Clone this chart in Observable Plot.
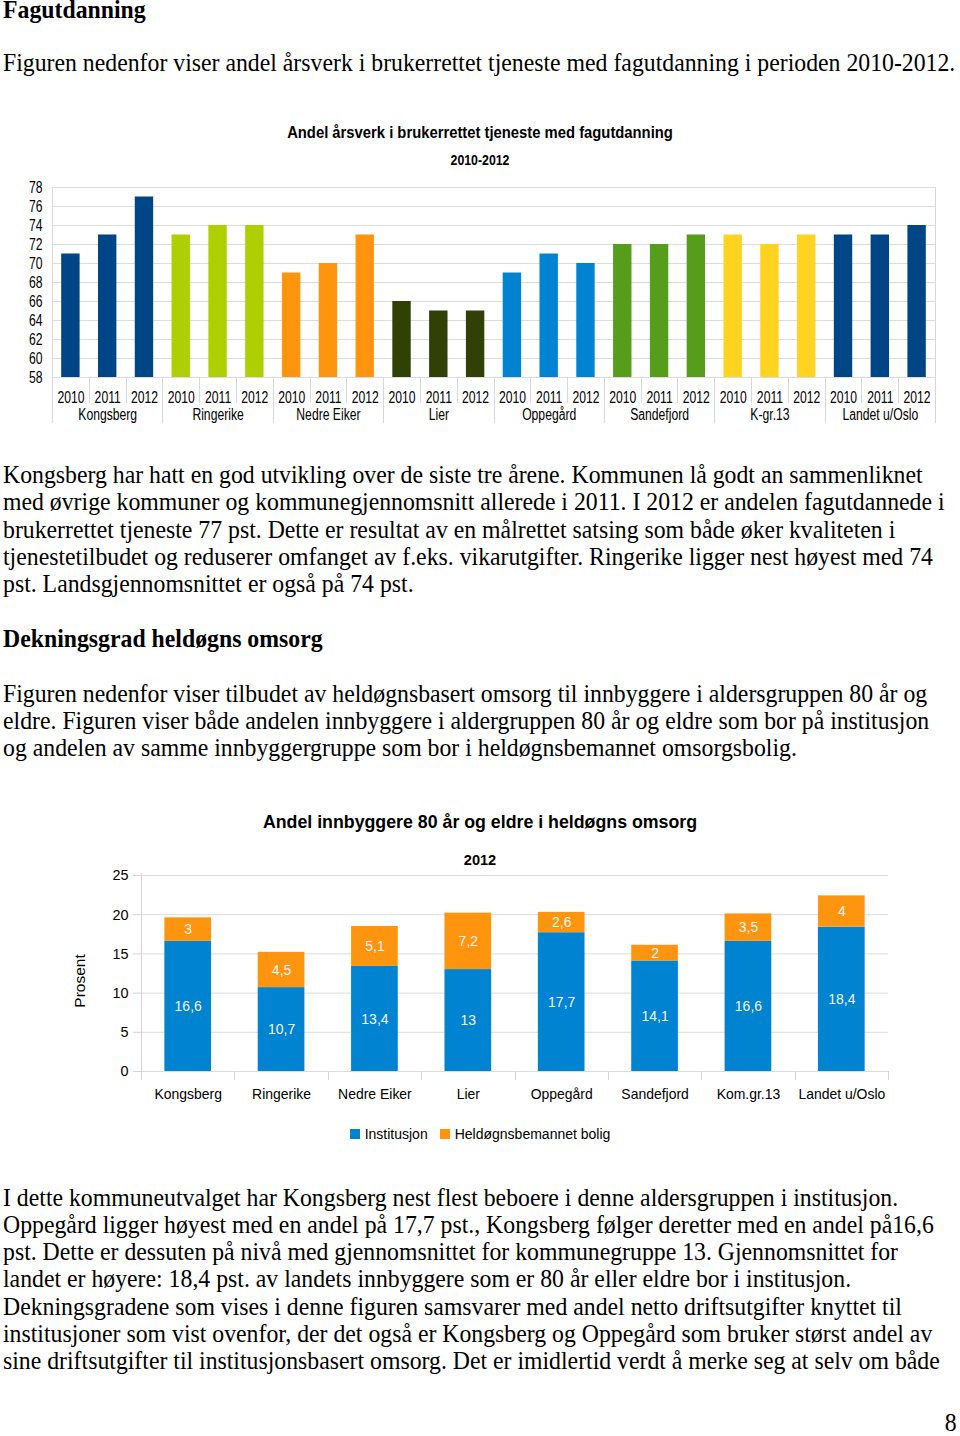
<!DOCTYPE html>
<html><head><meta charset="utf-8">
<script src="https://cdn.jsdelivr.net/npm/d3@7"></script>
<script src="https://cdn.jsdelivr.net/npm/@observablehq/plot@0.6"></script>
<style>
body{margin:0;background:#fff;}
#page{position:relative;width:960px;height:1436px;overflow:hidden;font-family:"Liberation Serif","Times New Roman",serif;background:#fff;}
.ln{position:absolute;left:3px;white-space:nowrap;font-size:25.5px;line-height:20px;color:#000;transform:scaleX(0.932);transform-origin:0 50%;}
.b{font-weight:bold;}
.ct{position:absolute;left:0;width:960px;text-align:center;font-family:"Liberation Sans",Arial,sans-serif;font-weight:bold;line-height:20px;color:#000;white-space:nowrap;transform-origin:50% 50%;}
.chart{position:absolute;left:0;}
#legend2{position:absolute;left:0;width:960px;top:1124px;display:flex;justify-content:center;align-items:center;font-family:"Liberation Sans",Arial,sans-serif;font-size:14px;line-height:20px;color:#000;}
#legend2 .sw{display:inline-block;width:10px;height:10px;margin-right:5px;}
#legend2 .it{display:flex;align-items:center;margin:0 6px;}
#prosent{position:absolute;left:80px;top:981px;transform:translate(-50%,-50%) rotate(-90deg);font-family:"Liberation Sans",Arial,sans-serif;font-size:15.5px;white-space:nowrap;}
</style></head><body><div id="page"></div>
<script>
// ---- Chart 1 data ----
const groups1 = ["Kongsberg","Ringerike","Nedre Eiker","Lier","Oppegård","Sandefjord","K-gr.13","Landet u/Oslo"];
const years1 = ["2010","2011","2012"];
const values2010 = [71,73,69,66,69,72,73,73];
const values2011 = [73,74,70,65,71,72,72,73];
const values2012 = [77,74,73,65,70,73,73,74];
const groupColors1 = ["#004586","#aecf00","#ff950e","#314004","#0084d1","#579d1c","#ffd320","#004586"];
const yDomain1 = [58,78];
const yTicks1 = [58,60,62,64,66,68,70,72,74,76,78];
const title1 = "Andel årsverk i brukerrettet tjeneste med fagutdanning";
const subtitle1 = "2010-2012";

// ---- Chart 2 data ----
const cats2 = ["Kongsberg","Ringerike","Nedre Eiker","Lier","Oppegård","Sandefjord","Kom.gr.13","Landet u/Oslo"];
const institusjon = [16.6,10.7,13.4,13,17.7,14.1,16.6,18.4];
const heldogn = [3,4.5,5.1,7.2,2.6,2,3.5,4];
const series2 = ["Institusjon","Heldøgnsbemannet bolig"];
const seriesColors2 = ["#0084d1","#ff950e"];
const yDomain2 = [0,25];
const yTicks2 = [0,5,10,15,20,25];
const title2 = "Andel innbyggere 80 år og eldre i heldøgns omsorg";
const subtitle2 = "2012";
const yLabel2 = "Prosent";

// ---- Page text (baseline positions) ----
const textLines = [
  {t:"Fagutdanning", y:19, b:true},
  {t:"Figuren nedenfor viser andel årsverk i brukerrettet tjeneste med fagutdanning i perioden 2010-2012.", y:72},
  {t:"Kongsberg har hatt en god utvikling over de siste tre årene. Kommunen lå godt an sammenliknet", y:484},
  {t:"med øvrige kommuner og kommunegjennomsnitt allerede i 2011. I 2012 er andelen fagutdannede i", y:511},
  {t:"brukerrettet tjeneste 77 pst. Dette er resultat av en målrettet satsing som både øker kvaliteten i", y:539},
  {t:"tjenestetilbudet og reduserer omfanget av f.eks. vikarutgifter. Ringerike ligger nest høyest med 74", y:566},
  {t:"pst. Landsgjennomsnittet er også på 74 pst.", y:593},
  {t:"Dekningsgrad heldøgns omsorg", y:648, b:true},
  {t:"Figuren nedenfor viser tilbudet av heldøgnsbasert omsorg til innbyggere i aldersgruppen 80 år og", y:703},
  {t:"eldre. Figuren viser både andelen innbyggere i aldergruppen 80 år og eldre som bor på institusjon", y:730},
  {t:"og andelen av samme innbyggergruppe som bor i heldøgnsbemannet omsorgsbolig.", y:757},
  {t:"I dette kommuneutvalget har Kongsberg nest flest beboere i denne aldersgruppen i institusjon.", y:1207},
  {t:"Oppegård ligger høyest med en andel på 17,7 pst., Kongsberg følger deretter med en andel på16,6", y:1234},
  {t:"pst. Dette er dessuten på nivå med gjennomsnittet for kommunegruppe 13. Gjennomsnittet for", y:1261},
  {t:"landet er høyere: 18,4 pst. av landets innbyggere som er 80 år eller eldre bor i institusjon.", y:1288},
  {t:"Dekningsgradene som vises i denne figuren samsvarer med andel netto driftsutgifter knyttet til", y:1316},
  {t:"institusjoner som vist ovenfor, der det også er Kongsberg og Oppegård som bruker størst andel av", y:1343},
  {t:"sine driftsutgifter til institusjonsbasert omsorg. Det er imidlertid verdt å merke seg at selv om både", y:1370}
];
const pageNumber = "8";
const pageNumberBaseline = 1432;

const page = document.getElementById("page");
const BASE = 18.6; // baseline offset inside a 20px line box
for (const L of textLines) {
  const d = document.createElement("div");
  d.className = "ln" + (L.b ? " b" : "");
  d.style.top = (L.y - BASE) + "px";
  d.textContent = L.t;
  page.appendChild(d);
}
{
  const d = document.createElement("div");
  d.className = "ln";
  d.style.left = "auto"; d.style.right = "3px"; d.style.transformOrigin = "100% 50%";
  d.style.top = (pageNumberBaseline - BASE) + "px";
  d.textContent = pageNumber;
  page.appendChild(d);
}
function addTitle(text, cy, size, sx) {
  const d = document.createElement("div");
  d.className = "ct";
  d.style.top = (cy - 10) + "px";
  d.style.fontSize = size + "px";
  d.style.transform = "scaleX(" + sx + ")";
  d.textContent = text;
  page.appendChild(d);
}
addTitle(title1, 133, 16, 0.925);
addTitle(subtitle1, 160, 14, 0.88);
addTitle(title2, 822, 18.5, 0.96);
addTitle(subtitle2, 860, 14.6, 1);

// condense SVG texts (the reference uses a narrow face)
function condense(svg, k) {
  d3.select(svg).selectAll("text").each(function () {
    const L = this.getComputedTextLength();
    if (L > 0) {
      this.setAttribute("textLength", (L * k).toFixed(2));
      this.setAttribute("lengthAdjust", "spacingAndGlyphs");
    }
  });
}

// ---- Chart 1 ----
const data1 = groups1.flatMap((g, i) => years1.map((y, j) => ({
  group: g, year: y, key: g + "|" + y, value: [values2010, values2011, values2012][j][i]
})));
const keys1 = data1.map(d => d.key);
const c1 = Plot.plot({
  width: 960, height: 270,
  marginLeft: 52, marginRight: 25, marginTop: 17, marginBottom: 63,
  style: {fontFamily: "'Liberation Sans',Arial,sans-serif", fontSize: "16px", color: "#000", background: "transparent", overflow: "visible"},
  x: {domain: keys1, paddingInner: 0.5, paddingOuter: 0.25, round: false, axis: null},
  y: {domain: yDomain1, axis: null},
  color: {domain: groups1, range: groupColors1},
  marks: [
    Plot.ruleY(yTicks1, {stroke: "#dcdcdc"}),
    Plot.barY(data1, {x: "key", y: "value", fill: "group", clip: true}),
    Plot.axisY({ticks: yTicks1, tickSize: 0, tickPadding: 10, label: null}),
    Plot.axisX({tickSize: 0, tickPadding: 14, tickFormat: d => d.split("|")[1], label: null}),
    Plot.text(data1.filter(d => d.year === years1[1]), {x: "key", text: "group", frameAnchor: "bottom", dy: 42})
  ]
});
{
  const sx = c1.scale("x"), sy = c1.scale("y");
  const gap = (sx.step - sx.bandwidth) / 2;
  const top = sy.apply(yDomain1[1]), bot = sy.apply(yDomain1[0]);
  const g = d3.select(c1).append("g").attr("stroke", "#d8d8d8").attr("stroke-width", 1);
  keys1.forEach((k, i) => {
    const x = Math.round(sx.apply(k) - gap) + 0.5;
    const groupEdge = i % 3 === 0;
    g.append("line").attr("x1", x).attr("x2", x)
      .attr("y1", i === 0 ? top : bot).attr("y2", bot + (groupEdge ? 46 : 26));
  });
  const xr = Math.round(sx.apply(keys1[keys1.length - 1]) + sx.bandwidth + gap) + 0.5;
  g.append("line").attr("x1", xr).attr("x2", xr).attr("y1", top).attr("y2", bot + 46);
}
const w1 = document.createElement("div");
w1.className = "chart"; w1.style.top = "170px";
w1.appendChild(c1);
page.appendChild(w1);
condense(c1, 0.76);

// ---- Chart 2 ----
const fmt = v => String(v).replace(".", ",");
const data2 = cats2.flatMap((c, i) => [
  {cat: c, series: series2[0], value: institusjon[i]},
  {cat: c, series: series2[1], value: heldogn[i]}
]);
const c2 = Plot.plot({
  width: 960, height: 245,
  marginLeft: 141, marginRight: 72, marginTop: 10, marginBottom: 39,
  style: {fontFamily: "'Liberation Sans',Arial,sans-serif", fontSize: "15px", color: "#000", background: "transparent", overflow: "visible"},
  x: {domain: cats2, paddingInner: 0.5, paddingOuter: 0.25, round: false, axis: null},
  y: {domain: yDomain2, axis: null},
  color: {domain: series2, range: seriesColors2},
  marks: [
    Plot.ruleY(yTicks2, {stroke: "#dcdcdc"}),
    Plot.barY(data2, {x: "cat", y: "value", fill: "series"}),
    Plot.text(data2, Plot.stackY({x: "cat", y: "value", text: d => fmt(d.value), fill: "#f4f4f4", fontSize: 15})),
    Plot.axisY({ticks: yTicks2, tickSize: 8, tickPadding: 5, stroke: "#d4d4d4", fill: "#000", fontSize: 15.5, label: null}),
    Plot.axisX({tickSize: 0, tickPadding: 17, label: null})
  ]
});
{
  const sx = c2.scale("x"), sy = c2.scale("y");
  const gap = (sx.step - sx.bandwidth) / 2;
  const top = sy.apply(yDomain2[1]), bot = sy.apply(yDomain2[0]);
  const g = d3.select(c2).append("g").attr("stroke", "#d4d4d4").attr("stroke-width", 1);
  cats2.forEach((k, i) => {
    const x = Math.round(sx.apply(k) - gap) + 0.5;
    g.append("line").attr("x1", x).attr("x2", x).attr("y1", i === 0 ? top - 2 : bot).attr("y2", bot + 9);
  });
  const xr = Math.round(sx.apply(cats2[cats2.length - 1]) + sx.bandwidth + gap) + 0.5;
  g.append("line").attr("x1", xr).attr("x2", xr).attr("y1", bot).attr("y2", bot + 9);
}
const w2 = document.createElement("div");
w2.className = "chart"; w2.style.top = "865px";
w2.appendChild(c2);
page.appendChild(w2);
condense(c2, 0.93);

// y label
{
  const d = document.createElement("div");
  d.id = "prosent"; d.textContent = yLabel2;
  page.appendChild(d);
}
// legend
{
  const lg = document.createElement("div");
  lg.id = "legend2";
  series2.forEach((s, i) => {
    const it = document.createElement("span"); it.className = "it";
    const sw = document.createElement("span"); sw.className = "sw"; sw.style.background = seriesColors2[i];
    const tx = document.createElement("span"); tx.textContent = s;
    it.appendChild(sw); it.appendChild(tx); lg.appendChild(it);
  });
  page.appendChild(lg);
}
</script></body></html>
